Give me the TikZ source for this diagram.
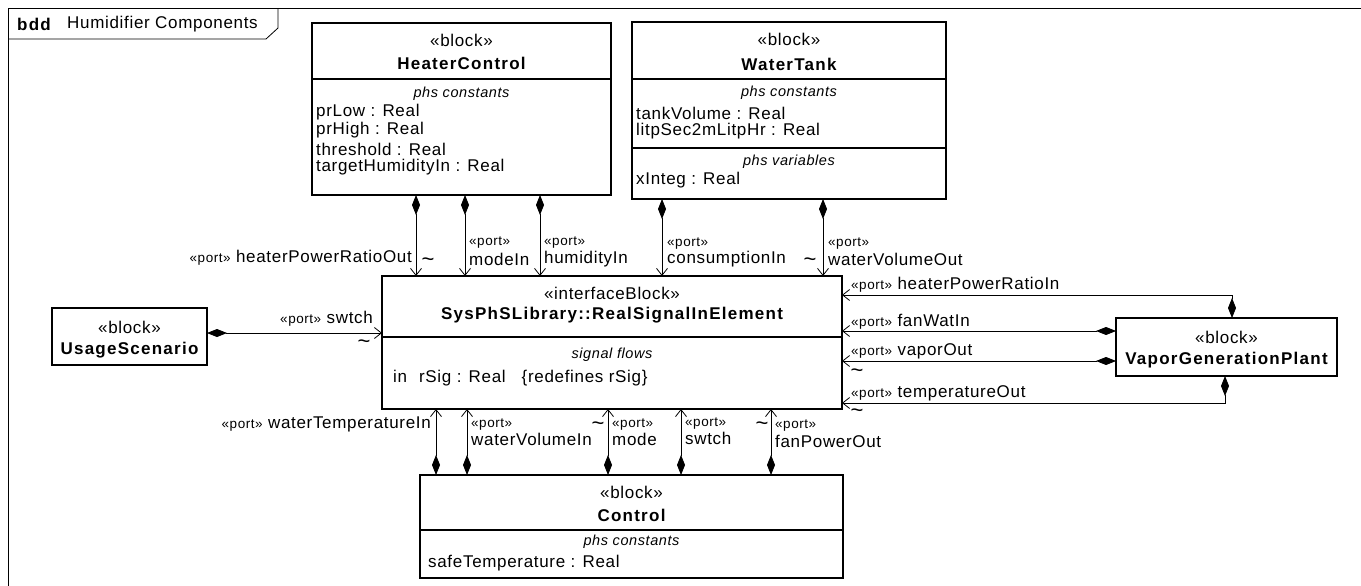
\documentclass[tikz,border=0pt]{standalone}
\usepackage{fontspec}
\setmainfont{Liberation Sans}[LetterSpace=4,BoldFeatures={LetterSpace=7.4}]
\usetikzlibrary{arrows.meta}
\newcommand{\myfs}[1]{\fontsize{#1}{#1}\selectfont}
\newcommand{\pst}{{\myfs{13.5}«port»}}
\begin{document}
\begin{tikzpicture}[x=1pt,y=-1pt,
  blk/.style={draw, line width=1.6pt, inner sep=0pt, outer sep=0pt},
  comp/.style={line width=0.8pt, {Diamond[length=20pt,width=8pt]}-{Straight Barb[length=7pt,width=11pt]}},
  ster/.style={inner sep=0pt, font={\myfs{17}}},
  nm/.style={inner sep=0pt, font={\myfs{17}\bfseries}},
  cmp/.style={inner sep=0pt, font={\myfs{14.5}\itshape}},
  att/.style={inner sep=0pt, anchor=west, font={\myfs{17}}},
  lbl/.style={inner sep=0pt, font={\myfs{17}}},
  ptl/.style={inner sep=0pt, anchor=west, font={\myfs{13.5}}},
  tld/.style={inner sep=0pt, font={\myfs{22}}},
  divl/.style={line width=1.6pt},
]
\useasboundingbox (0,0) rectangle (1361,586);
% frame
\draw[line width=0.8pt] (8,590) -- (8,8.5) -- (1365,8.5);
\draw[line width=0.8pt] (8,39) -- (266,39) -- (278,28) -- (278,8.5);
\node[nm, anchor=west] (hdrb) at (17,24) {bdd};
\node[lbl, anchor=west] (hdrt) at (67,24) {Humidifier Components};

% HeaterControl
\node[blk, minimum width=299pt, minimum height=172pt] (hc) at (461.5,109) {};
\node[ster] (hcs) at (461.5,40) {«block»};
\node[nm] (hcn) at (461.5,63) {HeaterControl};
\draw[divl] (312,79) -- (611,79);
\node[cmp] (hcc) at (461.5,94) {phs constants};
\node[att] (hca1) at (316,112) {prLow : Real};
\node[att] (hca2) at (316,130.5) {prHigh : Real};
\node[att] (hca3) at (316,149) {threshold : Real};
\node[att] (hca4) at (316,167.5) {targetHumidityIn : Real};

% WaterTank
\node[blk, minimum width=314pt, minimum height=177pt] (wt) at (789,110.5) {};
\node[ster] (wts) at (789,39) {«block»};
\node[nm] (wtn) at (789,64) {WaterTank};
\draw[divl] (632,79) -- (946,79);
\node[cmp] (wtc) at (789,93) {phs constants};
\node[att] (wta1) at (636,113) {tankVolume : Real};
\node[att] (wta2) at (636,131) {litpSec2mLitpHr : Real};
\draw[divl] (632,148) -- (946,148);
\node[cmp] (wtv) at (789,162) {phs variables};
\node[att] (wta3) at (636,180) {xInteg : Real};

% Interface block
\node[blk, minimum width=460pt, minimum height=133pt] (ib) at (612,342.5) {};
\node[ster] (ibs) at (612,293) {«interfaceBlock»};
\node[nm] (ibn) at (612,315) {SysPhSLibrary::RealSignalInElement};
\draw[divl] (382,337) -- (842,337);
\node[cmp] (ibc) at (612,355) {signal flows};
\node[att] (iba) at (393,378) {in\hspace{12pt}rSig : Real\hspace{16pt}\{redefines rSig\}};

% UsageScenario
\node[blk, minimum width=155pt, minimum height=57pt] (us) at (129.5,336.5) {};
\node[ster] (uss) at (129.5,327) {«block»};
\node[nm] (usn) at (129.5,350) {UsageScenario};

% VaporGenerationPlant
\node[blk, minimum width=221pt, minimum height=58pt] (vg) at (1226.5,347) {};
\node[ster] (vgs) at (1226.5,337) {«block»};
\node[nm] (vgn) at (1226.5,360) {VaporGenerationPlant};

% Control
\node[blk, minimum width=423pt, minimum height=103pt] (ct) at (631.5,526.5) {};
\node[ster] (cts) at (631.5,492) {«block»};
\node[nm] (ctn) at (631.5,515) {Control};
\draw[divl] (420,530) -- (843,530);
\node[cmp] (ctc) at (631.5,542) {phs constants};
\node[att] (cta) at (428,563) {safeTemperature : Real};

% coordinates for connectors
\coordinate (ta) at (416,0);
\coordinate (tb) at (465,0);
\coordinate (tc) at (540,0);
\coordinate (td) at (662,0);
\coordinate (te) at (823,0);
\coordinate (ba) at (436,0);
\coordinate (bb) at (467,0);
\coordinate (bc) at (608,0);
\coordinate (bd) at (681,0);
\coordinate (be) at (771,0);
\coordinate (ra) at (1232,295);
\coordinate (rb) at (0,331);
\coordinate (rc) at (0,361);
\coordinate (rd) at (1225,403);
\coordinate (sa) at (0,333);

% top connectors
\draw[comp] (hc.south -| ta) -- (ib.north -| ta);
\draw[comp] (hc.south -| tb) -- (ib.north -| tb);
\draw[comp] (hc.south -| tc) -- (ib.north -| tc);
\draw[comp] (wt.south -| td) -- (ib.north -| td);
\draw[comp] (wt.south -| te) -- (ib.north -| te);
% bottom connectors
\draw[comp] (ct.north -| ba) -- (ib.south -| ba);
\draw[comp] (ct.north -| bb) -- (ib.south -| bb);
\draw[comp] (ct.north -| bc) -- (ib.south -| bc);
\draw[comp] (ct.north -| bd) -- (ib.south -| bd);
\draw[comp] (ct.north -| be) -- (ib.south -| be);
% right connectors
\draw[comp] (vg.north -| ra) -- (ra) -- (ib.east |- ra);
\draw[comp] (vg.west |- rb) -- (ib.east |- rb);
\draw[comp] (vg.west |- rc) -- (ib.east |- rc);
\draw[comp] (vg.south -| rd) -- (rd) -- (ib.east |- rd);
% left connector
\draw[comp] (us.east |- sa) -- (ib.west |- sa);

% top labels
\node[lbl, anchor=east] (la) at (412,258) {\pst\ heaterPowerRatioOut};
\node[tld] (tla) at (428,262) {\textasciitilde};
\node[ptl] (lbp) at (469,243) {«port»};
\node[lbl, anchor=west] (lb) at (469,259) {modeIn};
\node[ptl] (lcp) at (544,243) {«port»};
\node[lbl, anchor=west] (lc) at (544,259) {humidityIn};
\node[ptl] (ldp) at (667,244) {«port»};
\node[lbl, anchor=west] (ld) at (667,259) {consumptionIn};
\node[ptl] (lep) at (828,244) {«port»};
\node[lbl, anchor=west] (le) at (828,259) {waterVolumeOut};
\node[tld] (tle) at (810,262) {\textasciitilde};

% right labels
\node[lbl, anchor=west] (rla) at (851,285) {\pst\ heaterPowerRatioIn};
\node[lbl, anchor=west] (rlb) at (851,322) {\pst\ fanWatIn};
\node[lbl, anchor=west] (rlc) at (851,351.5) {\pst\ vaporOut};
\node[tld] (trc) at (857,373) {\textasciitilde};
\node[lbl, anchor=west] (rld) at (851,393) {\pst\ temperatureOut};
\node[tld] (trd) at (857,413) {\textasciitilde};

% left label
\node[lbl, anchor=east] (sl) at (373,319) {\pst\ swtch};
\node[tld] (tsl) at (364,344) {\textasciitilde};

% bottom labels
\node[lbl, anchor=east] (bla) at (431,424) {\pst\ waterTemperatureIn};
\node[ptl] (blbp) at (471,425) {«port»};
\node[lbl, anchor=west] (blb) at (471,439) {waterVolumeIn};
\node[tld] (tbc) at (598,426) {\textasciitilde};
\node[ptl] (blcp) at (612,425) {«port»};
\node[lbl, anchor=west] (blc) at (612,439) {mode};
\node[ptl] (bldp) at (685,424) {«port»};
\node[lbl, anchor=west] (bld) at (685,438) {swtch};
\node[tld] (tbe) at (762,426) {\textasciitilde};
\node[ptl] (blep) at (775,426) {«port»};
\node[lbl, anchor=west] (ble) at (775,441) {fanPowerOut};
\end{tikzpicture}
\end{document}
